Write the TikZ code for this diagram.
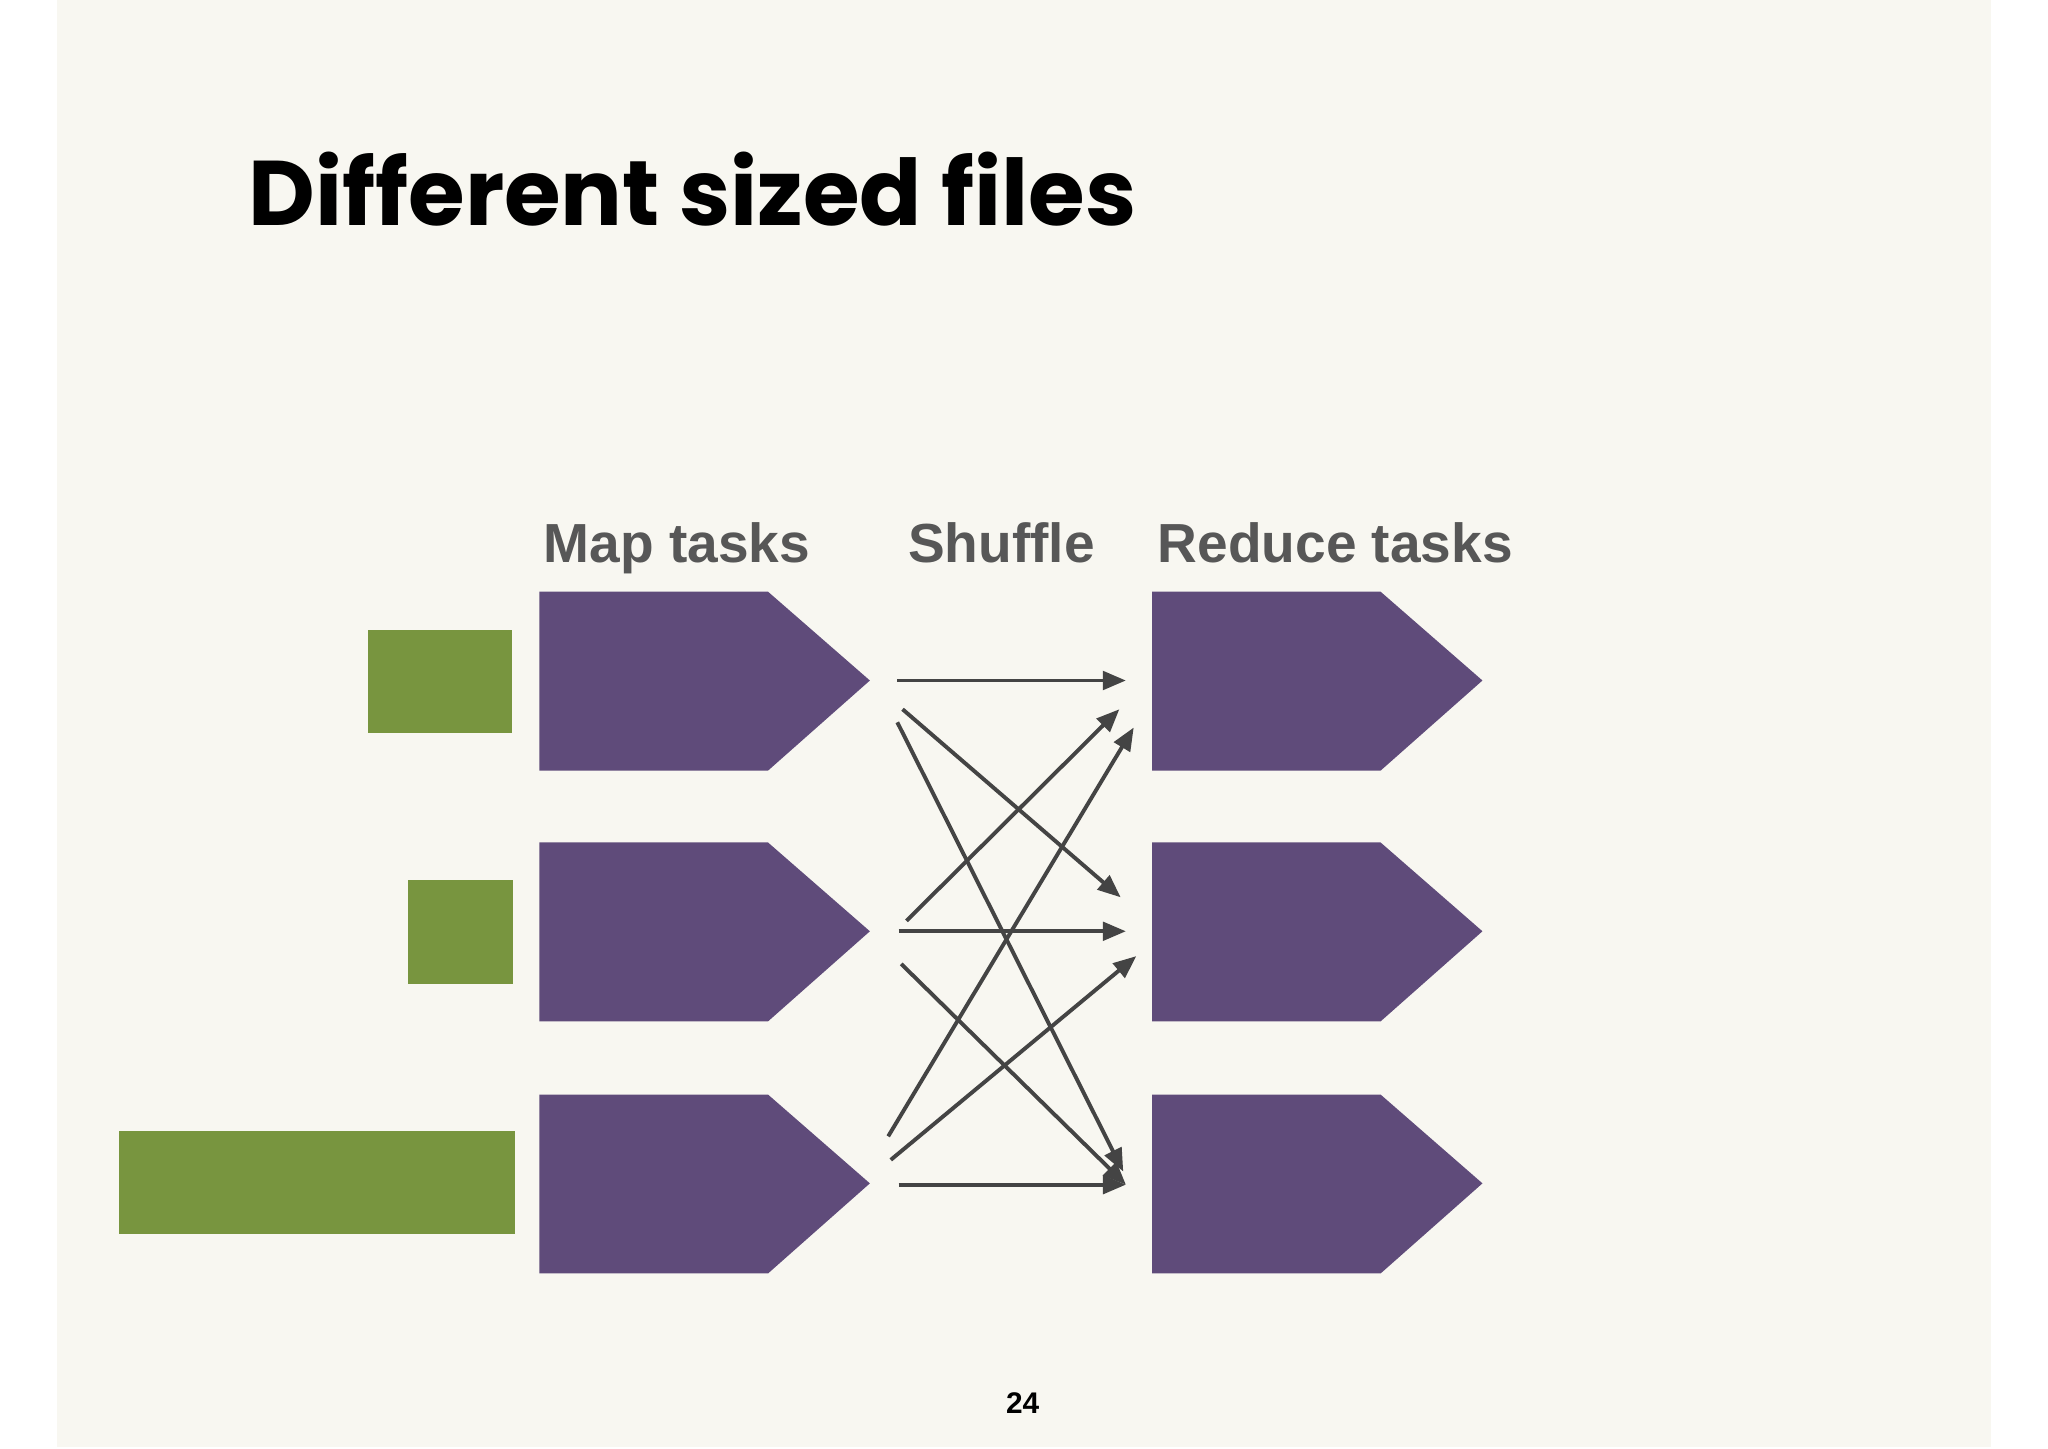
\documentclass[tikz,border=0pt]{standalone}
\usepackage{fontspec}
\setmainfont{Liberation Sans}
\newfontfamily\titlefont{Poppins}
\usetikzlibrary{arrows.meta}
\definecolor{bg}{HTML}{F8F7F1}
\definecolor{purp}{HTML}{5F4B7A}
\definecolor{grn}{HTML}{78953F}
\definecolor{arr}{HTML}{444444}
\begin{document}
\begin{tikzpicture}[x=0.02cm,y=-0.02cm,
  task/.style={fill=purp},
  file/.style={fill=grn},
  flow/.style={draw=arr,line width=1.7pt,-{Triangle[length=10pt,width=8pt]}},
  hdr/.style={text=arr!90,font=\bfseries\fontsize{24}{28}\selectfont,anchor=base west,inner sep=0}]
\useasboundingbox (0,0) rectangle (1568,1109);
\fill[white] (0,0) rectangle (1568,1109);
\fill[bg] (44,0) rectangle (1524,1108);
\node[anchor=base west,inner sep=0,font=\titlefont\bfseries\fontsize{40}{44}\selectfont] (title) at (190,173) {Different sized files};
\node[hdr] (hm) at (416,431) {Map tasks};
\node[hdr] (hs) at (695,431) {Shuffle};
\node[hdr] (hr) at (886,431) {Reduce tasks};
\foreach \c/\n in {521/1,713/2,906/3}{
  \fill[task] (413,\c-68) -- (588,\c-68) -- (666,\c) -- (588,\c+69) -- (413,\c+69) -- cycle;
  \fill[task] (882,\c-68) -- (1057,\c-68) -- (1135,\c) -- (1057,\c+69) -- (882,\c+69) -- cycle;
}
\fill[file] (282,482) rectangle (392,561);
\fill[file] (312,674) rectangle (393,753);
\fill[file] (91,866) rectangle (394,945);
\coordinate (a1) at (687,521); \coordinate (b1) at (862,521);
\coordinate (a2) at (691,543); \coordinate (b2) at (858,687);
\coordinate (a3) at (687,553); \coordinate (b3) at (860,897);
\coordinate (a4) at (694,705); \coordinate (b4) at (857,543);
\coordinate (a5) at (688,713); \coordinate (b5) at (862,713);
\coordinate (a6) at (690,738); \coordinate (b6) at (862,907);
\coordinate (a7) at (680,870); \coordinate (b7) at (868,557);
\coordinate (a8) at (682,888); \coordinate (b8) at (870,732);
\coordinate (a9) at (688,907); \coordinate (b9) at (862,907);
\foreach \i in {1,...,9}{\draw[flow] (a\i) -- (b\i);}
\node[font=\rmfamily\bfseries\fontsize{13}{15}\selectfont,inner sep=0] (pg) at (783,1074) {24};
\end{tikzpicture}
\end{document}
